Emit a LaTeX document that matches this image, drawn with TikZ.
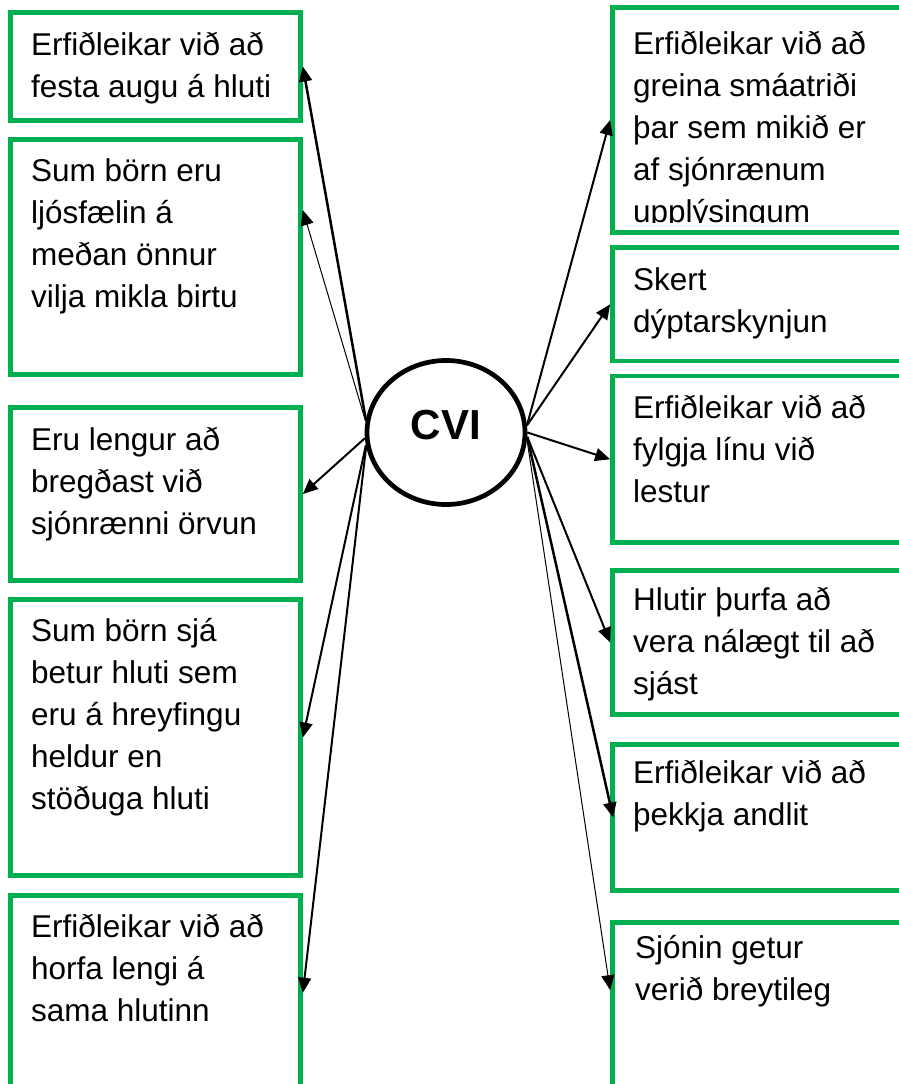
\documentclass[tikz,border=0pt]{standalone}
\usepackage{fontspec}
\setmainfont{Liberation Sans}
\usetikzlibrary{arrows.meta,shapes.geometric}

\definecolor{boxgreen}{RGB}{0,176,80}

\begin{document}
\begin{tikzpicture}[x=1pt,y=-1pt,
  box/.style={draw=boxgreen, line width=4.7pt, rectangle, inner sep=0pt},
  lbox/.style={box, minimum width=290pt},
  rbox/.style={box, minimum width=317.5pt},
  txt/.style={anchor=base west, inner sep=0pt, align=left, font=\fontsize{31.5}{41.8}\selectfont},
  arr/.style={-{Triangle[length=15pt,width=13pt]}, line width=2pt},
  thin arr/.style={arr, line width=1pt}]
\useasboundingbox (0,0) rectangle (899,1084);
\clip (0,0) rectangle (899,1084);

% centre
\node[draw, ellipse, line width=4.7pt, minimum width=158pt, minimum height=144pt,
  font=\fontsize{42}{42}\bfseries\selectfont, text depth=15pt] (cvi) at (446,432.5) {CVI};

% left column (text placed at its last baseline)
\node[lbox, minimum height=108pt] (l1) at (155.5,66.5) {};
\node[lbox, minimum height=235pt] (l2) at (155.5,257) {};
\node[lbox, minimum height=173pt] (l3) at (155.5,494) {};
\node[lbox, minimum height=276pt] (l4) at (155.5,737.5) {};
\node[lbox, minimum height=194.5pt] (l5) at (155.5,992.75) {};

\node[txt] (l1t) at (31,97) {Erfiðleikar við að\\festa augu á hluti};
\node[txt] (l2t) at (31,307) {Sum börn eru\\ljósfælin á\\meðan önnur\\vilja mikla birtu};
\node[txt] (l3t) at (31,534) {Eru lengur að\\bregðast við\\sjónrænni örvun};
\node[txt] (l4t) at (31,809) {Sum börn sjá\\betur hluti sem\\eru á hreyfingu\\heldur en\\stöðuga hluti};
\node[txt] (l5t) at (31,1021) {Erfiðleikar við að\\horfa lengi á\\sama hlutinn};

% right column
\node[rbox, minimum height=225pt] (r1) at (771.25,120) {};
\node[rbox, minimum height=113.5pt] (r2) at (771.25,304.25) {};
\node[rbox, minimum height=166.5pt] (r3) at (771.25,459.25) {};
\node[rbox, minimum height=144pt] (r4) at (771.25,642.5) {};
\node[rbox, minimum height=146pt] (r5) at (771.25,817.5) {};
\node[rbox, minimum height=172.5pt] (r6) at (771.25,1008.75) {};

\begin{scope}
\clip (612,0) rectangle (899,222);
\node[txt] (r1t) at (633,222) {Erfiðleikar við að\\greina smáatriði\\þar sem mikið er\\af sjónrænum\\upplýsingum};
\end{scope}
\node[txt] (r2t) at (633,332) {Skert\\dýptarskynjun};
\node[txt] (r3t) at (633,502) {Erfiðleikar við að\\fylgja línu við\\lestur};
\node[txt] (r4t) at (633,694) {Hlutir þurfa að\\vera nálægt til að\\sjást};
\node[txt] (r5t) at (633,825) {Erfiðleikar við að\\þekkja andlit};
\node[txt] (r6t) at (635,1000) {Sjónin getur\\verið breytileg};

% arrows
\draw[arr, line width=2.5pt] (cvi.171) -- (l1.east);
\draw[thin arr] (cvi.172) -- ([yshift=-73pt]l2.north east);
\draw[arr] (cvi.184) -- (l3.east);
\draw[arr] (cvi.189) -- (l4.east);
\draw[arr] (cvi.190) -- (l5.east);
\draw[arr] (cvi.5) -- (r1.west);
\draw[arr] (cvi.5) -- (r2.west);
\draw[arr] (cvi.0) -- (r3.west);
\draw[arr] (cvi.-3) -- (r4.west);
\draw[arr, line width=2.5pt] (cvi.-3) -- ([xshift=3pt]r5.west);
\draw[thin arr] (cvi.-5) -- ([yshift=-70pt]r6.north west);
\end{tikzpicture}
\end{document}
